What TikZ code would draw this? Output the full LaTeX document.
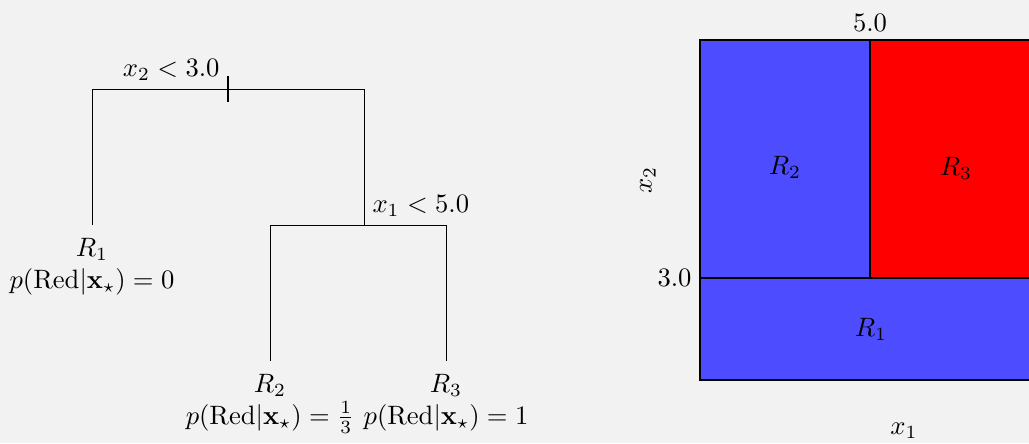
\documentclass[tikz,border=0pt]{standalone}
\usepackage{amsmath,amssymb}
\usetikzlibrary{positioning}
\definecolor{bggray}{HTML}{F2F2F2}
\definecolor{regblue}{HTML}{4D4DFF}
\definecolor{regred}{HTML}{FF0000}

\begin{document}
\begin{tikzpicture}[x=0.01322cm, y=-0.01322cm,
    leaf/.style={align=center, anchor=north, inner xsep=0pt, inner ysep=4.8pt},
    branch/.style={draw=black, line width=0.35pt},
    region/.style={draw=black, line width=0.5pt}]
    \fill[bggray] (0,0) rectangle (1029,443);
    \useasboundingbox (0,0) rectangle (1029,443);
    % decision tree
    \coordinate (root) at (228,89);
    \coordinate (rootL) at (92,89);
    \coordinate (rootR) at (364,89);
    \coordinate (split) at (364,225);
    \coordinate (splitL) at (270,225);
    \coordinate (splitR) at (446,225);
    \coordinate (tickT) at (228,76);
    \coordinate (tickB) at (228,102);
    \node[above left, inner sep=3pt] (q1) at (root) {$x_2 < 3.0$};
    \node[above right, inner sep=3pt] (q2) at (split) {$x_1 < 5.0$};
    \node[leaf] (r1) at (92,225) {$R_1$\\$p(\mathrm{Red}|\mathbf{x}_\star) = 0$};
    \node[leaf] (r2) at (270,361) {$R_2$\\$p(\mathrm{Red}|\mathbf{x}_\star) = \frac{1}{3}$};
    \node[leaf] (r3) at (446,361) {$R_3$\\$p(\mathrm{Red}|\mathbf{x}_\star) = 1$};
    \draw[branch] (r1.north) -- (rootL) -- (rootR) -- (split);
    \draw[branch] (r2.north) -- (splitL) -- (splitR) -- (r3.north);
    \draw[black, thick] (tickT) -- (tickB);
    % partition of the input space
    \fill[regblue, region] (700,278) rectangle (1040,380);
    \fill[regblue, region] (700,40) rectangle (870,278);
    \fill[regred, region] (870,40) rectangle (1040,278);
    \coordinate (cutX) at (870,40);
    \coordinate (cutY) at (700,278);
    \node[above, inner sep=3pt] (t5) at (cutX) {$5.0$};
    \node[left, inner sep=3pt] (t3) at (cutY) {$3.0$};
    \node (lr2) at (785,167) {$R_2$};
    \node (lr3) at (956,168) {$R_3$};
    \node (lr1) at (871,329) {$R_1$};
    \node (ax1) at (904,431) {$x_1$};
    \node[rotate=90] (ax2) at (648,180) {$x_2$};
\end{tikzpicture}
\end{document}
